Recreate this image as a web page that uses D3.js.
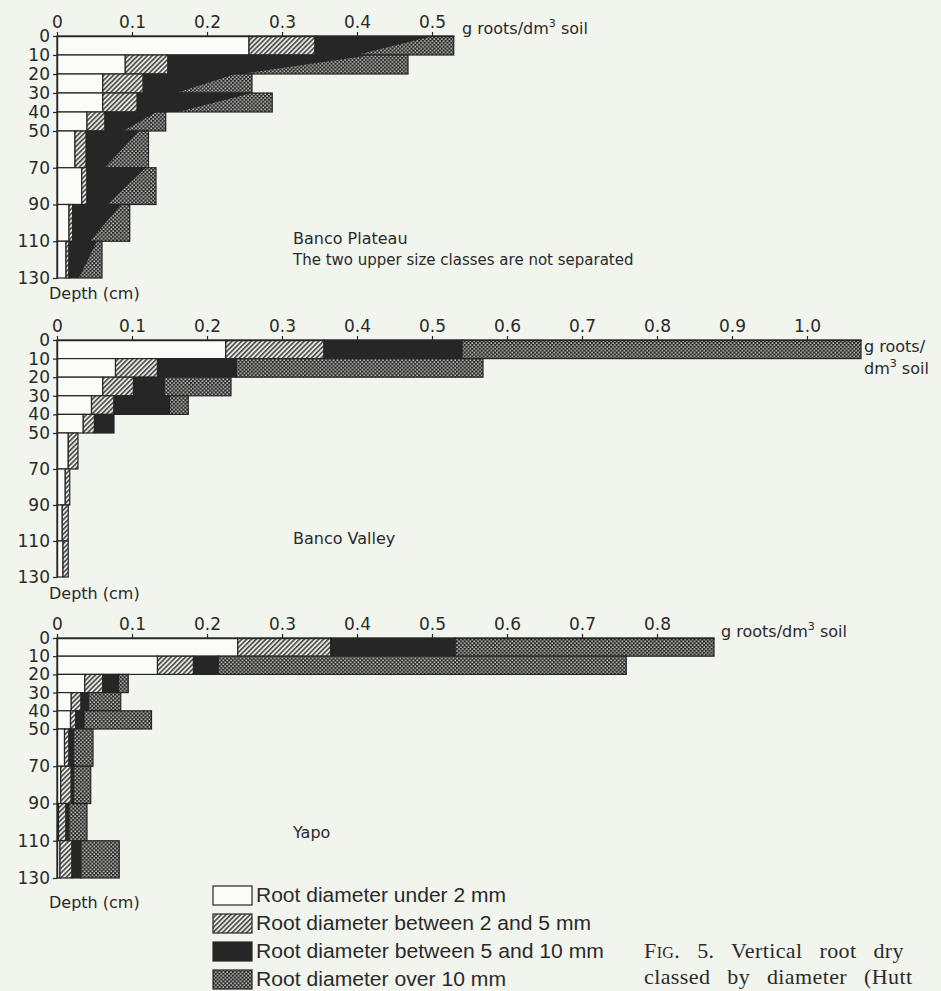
<!DOCTYPE html>
<html>
<head>
<meta charset="UTF-8">
<title>vertical root distribution</title>
<script src="https://cdn.jsdelivr.net/npm/d3@7"></script>
<style>
  body { margin: 0; background: #f2f4ee; }
  svg { display: block; }
</style>
</head>
<body>
<div id="chart"></div>
<script>
// depth limits of the sampled layers (cm)
const depths = [0, 10, 20, 30, 40, 50, 70, 90, 110, 130];

// Banco Plateau, g roots/dm3 soil (the two upper classes are not separated)
const plateauUnder2 = [0.256, 0.091, 0.061, 0.061, 0.040, 0.024, 0.033, 0.016, 0.012];
const plateau2to5   = [0.088, 0.057, 0.054, 0.046, 0.024, 0.015, 0.007, 0.005, 0.004];
const plateauOver5  = [0.185, 0.320, 0.145, 0.180, 0.081, 0.083, 0.092, 0.076, 0.044];

// Banco Valley
const valleyUnder2 = [0.225, 0.078, 0.061, 0.046, 0.035, 0.015, 0.011, 0.007, 0.008];
const valley2to5   = [0.131, 0.056, 0.041, 0.030, 0.015, 0.013, 0.006, 0.008, 0.007];
const valley5to10  = [0.184, 0.105, 0.041, 0.074, 0.026, 0, 0, 0, 0];
const valleyOver10 = [0.532, 0.329, 0.089, 0.025, 0, 0, 0, 0, 0];

// Yapo
const yapoUnder2 = [0.241, 0.134, 0.037, 0.019, 0.018, 0.010, 0.005, 0.002, 0.004];
const yapo2to5   = [0.124, 0.048, 0.024, 0.013, 0.007, 0.006, 0.014, 0.010, 0.016];
const yapo5to10  = [0.166, 0.033, 0.021, 0.010, 0.011, 0.006, 0.003, 0.004, 0.012];
const yapoOver10 = [0.345, 0.544, 0.013, 0.043, 0.090, 0.026, 0.023, 0.024, 0.051];

const plateauTicks = [0, 0.1, 0.2, 0.3, 0.4, 0.5];
const valleyTicks  = [0, 0.1, 0.2, 0.3, 0.4, 0.5, 0.6, 0.7, 0.8, 0.9, 1.0];
const yapoTicks    = [0, 0.1, 0.2, 0.3, 0.4, 0.5, 0.6, 0.7, 0.8];

const legendLabels = [
  "Root diameter under 2 mm",
  "Root diameter between 2 and 5 mm",
  "Root diameter between 5 and 10 mm",
  "Root diameter over 10 mm"
];

const width = 941, height = 991;
const x0 = 57, unit = 750;   // pixels per 1 g
const ink = "#262626";
const font = "DejaVu Sans, sans-serif";

const svg = d3.select("#chart").append("svg")
  .attr("width", width).attr("height", height);

const defs = svg.append("defs");

const hatch = defs.append("pattern").attr("id", "hatch")
  .attr("patternUnits", "userSpaceOnUse")
  .attr("width", 3.4).attr("height", 3.4)
  .attr("patternTransform", "rotate(45)");
hatch.append("rect").attr("width", 3.4).attr("height", 3.4).attr("fill", "#e6e8e2");
hatch.append("line").attr("x1", 0.8).attr("y1", 0).attr("x2", 0.8).attr("y2", 3.4)
  .attr("stroke", ink).attr("stroke-width", 1.3);

const cross = defs.append("pattern").attr("id", "cross")
  .attr("patternUnits", "userSpaceOnUse")
  .attr("width", 3.8).attr("height", 3.8);
cross.append("rect").attr("width", 3.8).attr("height", 3.8).attr("fill", "#2a2a2a");
cross.append("rect").attr("x", 0.4).attr("y", 0.4).attr("width", 1.4).attr("height", 1.4).attr("fill", "#f6f6f2");
cross.append("rect").attr("x", 2.3).attr("y", 2.3).attr("width", 1.4).attr("height", 1.4).attr("fill", "#f6f6f2");

// diagonal split used where the two upper classes were not separated
defs.append("clipPath").attr("id", "diag").attr("clipPathUnits", "objectBoundingBox")
  .append("polygon").attr("points", "0.85,0 1,0 1,1 0.3,1");

const fills = ["#fbfbf8", "url(#hatch)", ink, "url(#cross)"];

function drawPanel(p) {
  const g = svg.append("g");
  const n = depths.length - 1;
  const totals = d3.range(n).map(i => d3.sum(p.series, s => s[i]));
  const xMax = d3.max(totals);

  const x = d3.scaleLinear().domain([0, xMax]).range([x0, x0 + xMax * unit]);
  const y = d3.scaleLinear().domain([0, 50, 130]).range(p.yRange);

  d3.range(n).forEach(i => {
    let start = 0;
    p.series.forEach((s, k) => {
      const v = s[i];
      if (v <= 0) return;
      const rx = x(start), rw = x(start + v) - x(start);
      const ry = y(depths[i]), rh = y(depths[i + 1]) - y(depths[i]);
      if (p.merged && k === 2) {
        g.append("rect").attr("x", rx).attr("y", ry).attr("width", rw).attr("height", rh)
          .attr("fill", ink);
        g.append("rect").attr("x", rx).attr("y", ry).attr("width", rw).attr("height", rh)
          .attr("fill", "url(#cross)").attr("clip-path", "url(#diag)");
        g.append("rect").attr("x", rx).attr("y", ry).attr("width", rw).attr("height", rh)
          .attr("fill", "none").attr("stroke", ink).attr("stroke-width", 1.2);
      } else {
        g.append("rect").attr("x", rx).attr("y", ry).attr("width", rw).attr("height", rh)
          .attr("fill", fills[k]).attr("stroke", ink).attr("stroke-width", 1.2);
      }
      start += v;
    });
  });

  const fmt = d => d === 0 ? "0" : d3.format(".1f")(d);
  const ax = g.append("g")
    .attr("transform", "translate(0," + y(0) + ")")
    .call(d3.axisTop(x).tickValues(p.ticks).tickFormat(fmt).tickSize(4).tickSizeOuter(0).tickPadding(4));
  const ay = g.append("g")
    .attr("transform", "translate(" + x0 + ",0)")
    .call(d3.axisLeft(y).tickValues(depths).tickSize(4).tickSizeOuter(0).tickPadding(3));

  [ax, ay].forEach(a => {
    a.select(".domain").attr("stroke", ink).attr("stroke-width", 1.4);
    a.selectAll(".tick line").attr("stroke", ink).attr("stroke-width", 1.2);
    a.selectAll(".tick text").attr("font-family", font).attr("font-size", 17).attr("fill", "#2a2a2a");
  });

  g.append("text").attr("x", 49).attr("y", p.depthY)
    .attr("font-family", font).attr("font-size", 16).attr("fill", "#2a2a2a")
    .text("Depth (cm)");

  // unit label, e.g. "g roots/dm3 soil" with a raised 3
  p.unitLines.forEach((line, j) => {
    const t = g.append("text").attr("x", p.unitX).attr("y", p.unitY + j * 22)
      .attr("font-family", font).attr("font-size", 16).attr("fill", "#2a2a2a");
    let shift = 0;
    line.forEach(part => {
      if (part === "3") {
        t.append("tspan").attr("font-size", 11).attr("dy", -7).text("3");
        shift = 7;
      } else {
        t.append("tspan").attr("dy", shift).text(part);
        shift = 0;
      }
    });
  });

  p.titles.forEach((tt, j) => {
    g.append("text").attr("x", 293).attr("y", p.titleY + j * 21)
      .attr("font-family", font).attr("font-size", j === 0 ? 16 : 15).attr("fill", "#2a2a2a")
      .text(tt);
  });
}

drawPanel({
  series: [plateauUnder2, plateau2to5, plateauOver5],
  merged: true,
  ticks: plateauTicks,
  yRange: [36, 131, 278],
  depthY: 299,
  unitLines: [["g roots/dm", "3", " soil"]],
  unitX: 462, unitY: 34,
  titles: ["Banco Plateau", "The two upper size classes are not separated"],
  titleY: 244
});

drawPanel({
  series: [valleyUnder2, valley2to5, valley5to10, valleyOver10],
  ticks: valleyTicks,
  yRange: [340, 433, 577],
  depthY: 599,
  unitLines: [["g roots/"], ["dm", "3", " soil"]],
  unitX: 864, unitY: 352,
  titles: ["Banco Valley"],
  titleY: 544
});

drawPanel({
  series: [yapoUnder2, yapo2to5, yapo5to10, yapoOver10],
  ticks: yapoTicks,
  yRange: [638, 729, 878],
  depthY: 908,
  unitLines: [["g roots/dm", "3", " soil"]],
  unitX: 721, unitY: 637,
  titles: ["Yapo"],
  titleY: 838
});

// legend
const legend = svg.append("g");
legendLabels.forEach((lab, i) => {
  const ly = 886 + i * 28;
  legend.append("rect").attr("x", 213).attr("y", ly).attr("width", 39).attr("height", 19)
    .attr("fill", fills[i]).attr("stroke", ink).attr("stroke-width", 1.2);
  legend.append("text").attr("x", 256).attr("y", ly + 16)
    .attr("font-family", "Liberation Sans, Arial, sans-serif").attr("font-size", 20.5)
    .attr("fill", "#2a2a2a").attr("textLength", [250, 335, 348, 250][i])
    .attr("lengthAdjust", "spacingAndGlyphs").text(lab);
});

// caption (runs off the page edge in the source)
const cap = svg.append("g").attr("font-family", "Liberation Serif, serif")
  .attr("font-size", 22).attr("fill", "#2a2a2a")
  .attr("word-spacing", 11).attr("letter-spacing", 0.4);
const c1 = cap.append("text").attr("x", 644).attr("y", 958);
c1.append("tspan").text("F");
c1.append("tspan").attr("font-size", 16).text("IG");
c1.append("tspan").text(". 5. Vertical root dry");
cap.append("text").attr("x", 644).attr("y", 984)
  .text("classed by diameter (Hutt");
</script>
</body>
</html>
